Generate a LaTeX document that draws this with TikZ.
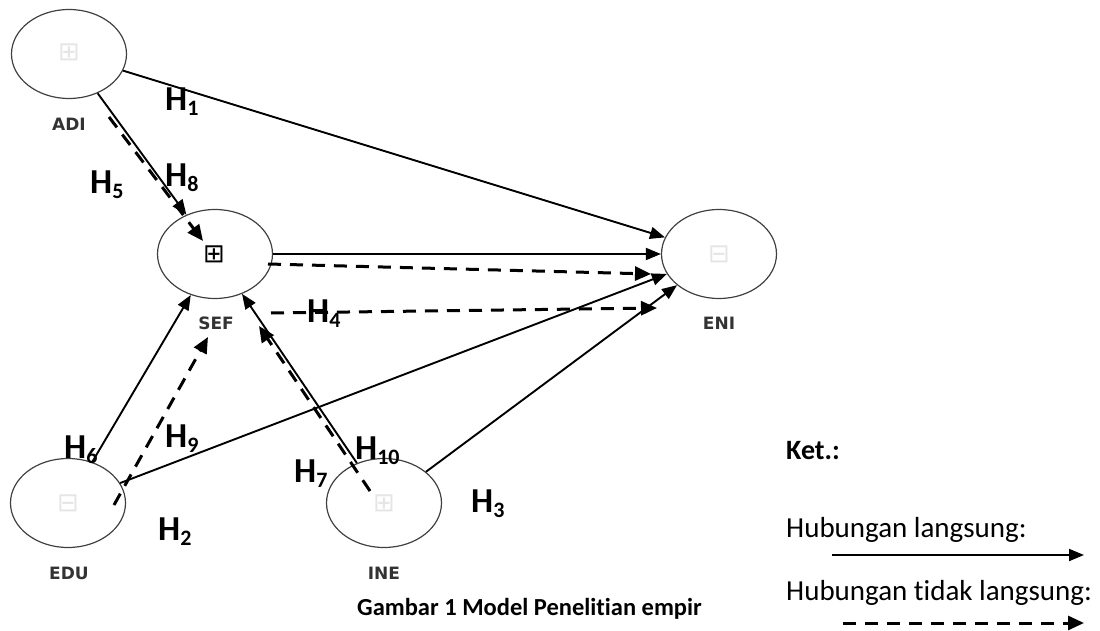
\documentclass[tikz,border=0pt]{standalone}
\usepackage{fontspec}
\setmainfont[Ligatures={NoCommon,NoContextual,NoRare},Contextuals=NoAlternate]{Carlito}
\newfontfamily\lblfont{DejaVu Sans}
\usetikzlibrary{shapes.geometric,arrows.meta}
\newcommand\hyplabel[1]{H\raisebox{-5pt}{\fontsize{22}{22}\selectfont #1}}
\begin{document}
\begin{tikzpicture}[x=1pt,y=-1pt,
  lat/.style={ellipse, draw=black!75, line width=1.2pt, minimum width=115pt, minimum height=89pt, inner sep=0pt},
  vlab/.style={font=\lblfont\bfseries\fontsize{17}{17}\selectfont, text=black!80, inner sep=0pt},
  hyp/.style={anchor=base west, inner sep=0pt, font=\bfseries\fontsize{35}{35}\selectfont},
  sym/.style={font=\lblfont\fontsize{26}{26}\selectfont, inner sep=0pt},
  direct/.style={line width=1.9pt, -{Triangle[length=15pt,width=12pt]}},
  indirect/.style={line width=3pt, dash pattern=on 13pt off 9pt, -{Triangle[length=16pt,width=14pt]}},
  legtext/.style={anchor=base west, inner sep=0pt, font=\fontsize{29}{29}\selectfont}
]
\useasboundingbox (0,0) rectangle (1100,631);

% latent variables
\node[lat] (adi) at (69,54) {};
\node[lat] (sef) at (215,254) {};
\node[lat] (eni) at (719,254) {};
\node[lat] (edu) at (68,503) {};
\node[lat] (ine) at (384,503) {};

% symbols inside
\node[sym, text=black!10] (sadi) at (69,52) {⊞};
\node[sym, text=black] (ssef) at (214,254) {⊞};
\node[sym, text=black!10] (seni) at (719,254) {⊟};
\node[sym, text=black!10] (sedu) at (68,503) {⊟};
\node[sym, text=black!10] (sine) at (384,503) {⊞};

% variable labels
\node[vlab] (ladi) at (69,124) {ADI};
\node[vlab] (lsef) at (216,323) {SEF};
\node[vlab] (leni) at (719,323) {ENI};
\node[vlab] (ledu) at (69,573) {EDU};
\node[vlab] (line) at (384,573) {INE};

% direct paths
\draw[direct] (adi) -- (eni);
\draw[direct] (adi) -- (sef);
\draw[direct] (sef) -- (eni);
\draw[direct] (edu) -- (sef);
\draw[direct] (edu) -- (eni);
\draw[direct] (ine) -- (eni);
\draw[direct] (ine) -- (sef);

% indirect paths
\coordinate (d1a) at (109,117);
\coordinate (d1b) at (203,241);
\coordinate (d2a) at (268,264);
\coordinate (d2b) at (651,274);
\coordinate (d3a) at (271,313);
\coordinate (d3b) at (657,308);
\coordinate (d4a) at (114,505);
\coordinate (d4b) at (208,337);
\coordinate (d5a) at (370,491);
\coordinate (d5b) at (259,326);
\draw[indirect] (d1a) -- (d1b);
\draw[indirect] (d2a) -- (d2b);
\draw[indirect] (d3a) -- (d3b);
\draw[indirect] (d4a) -- (d4b);
\draw[indirect] (d5a) -- (d5b);

% hypothesis labels
\node[hyp] (h1) at (165,111) {\hyplabel{1}};
\node[hyp] (h5) at (90,194) {\hyplabel{5}};
\node[hyp] (h8) at (165,187) {\hyplabel{8}};
\node[hyp] (h4) at (307,322) {\hyplabel{4}};
\node[hyp] (h6) at (64,458) {\hyplabel{6}};
\node[hyp] (h9) at (165,447) {\hyplabel{9}};
\node[hyp] (h10) at (355,459) {\hyplabel{10}};
\node[hyp] (h7) at (294,482) {\hyplabel{7}};
\node[hyp] (h2) at (158,540) {\hyplabel{2}};
\node[hyp] (h3) at (471,512) {\hyplabel{3}};

% caption
\node[anchor=base west, inner sep=0pt, font=\bfseries\fontsize{24.5}{24.5}\selectfont] (cap) at (357,615) {Gambar 1 Model Penelitian empir};

% legend
\node[legtext, font=\bfseries\fontsize{28}{28}\selectfont] (ket) at (786,459) {Ket.:};
\node[legtext] (lg1) at (786,537) {Hubungan langsung:};
\node[legtext] (lg2) at (786,600) {Hubungan tidak langsung:};
\coordinate (l1a) at (832,555);
\coordinate (l1b) at (1084,555);
\coordinate (l2a) at (843,623);
\coordinate (l2b) at (1084,623);
\draw[direct] (l1a) -- (l1b);
\draw[indirect] (l2a) -- (l2b);
\end{tikzpicture}
\end{document}
